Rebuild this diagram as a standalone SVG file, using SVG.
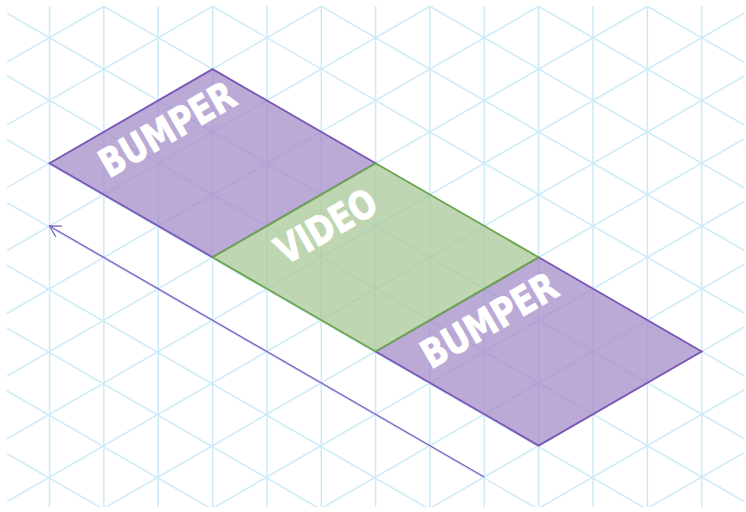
<svg xmlns="http://www.w3.org/2000/svg" xmlns:xlink="http://www.w3.org/1999/xlink" width="746" height="512" viewBox="0 0 746 512">
  <style>
    .bumper { fill: #a48cc8; fill-opacity: 0.75; stroke: #7b57b6; stroke-width: 1.8; stroke-linejoin: miter; }
    .video { fill: #aac898; fill-opacity: 0.75; stroke: #6ba64c; stroke-width: 1.8; }
    .label { font-family: "DejaVu Sans", "Liberation Sans", sans-serif; font-weight: 900; font-stretch: condensed; font-size: 39px; fill: #ffffff; stroke: #ffffff; stroke-width: 0.9; text-anchor: middle; }
    .conn { fill: none; stroke: #7d5cbf; stroke-width: 1.3; }
  </style>
  <defs>
    <clipPath id="gridClip"><rect x="7" y="6" width="737" height="501"/></clipPath>
    <g id="vlines" stroke="#cdeaf9" stroke-width="1.5">
      <line x1="-766.75" y1="-900" x2="-766.75" y2="1400"/>
      <line x1="-712.4" y1="-900" x2="-712.4" y2="1400"/>
      <line x1="-658.05" y1="-900" x2="-658.05" y2="1400"/>
      <line x1="-603.7" y1="-900" x2="-603.7" y2="1400"/>
      <line x1="-549.35" y1="-900" x2="-549.35" y2="1400"/>
      <line x1="-495" y1="-900" x2="-495" y2="1400"/>
      <line x1="-440.65" y1="-900" x2="-440.65" y2="1400"/>
      <line x1="-386.3" y1="-900" x2="-386.3" y2="1400"/>
      <line x1="-331.95" y1="-900" x2="-331.95" y2="1400"/>
      <line x1="-277.6" y1="-900" x2="-277.6" y2="1400"/>
      <line x1="-223.25" y1="-900" x2="-223.25" y2="1400"/>
      <line x1="-168.9" y1="-900" x2="-168.9" y2="1400"/>
      <line x1="-114.55" y1="-900" x2="-114.55" y2="1400"/>
      <line x1="-60.2" y1="-900" x2="-60.2" y2="1400"/>
      <line x1="-4.85" y1="-900" x2="-4.85" y2="1400"/>
      <line x1="49.5" y1="-900" x2="49.5" y2="1400"/>
      <line x1="103.85" y1="-900" x2="103.85" y2="1400"/>
      <line x1="158.2" y1="-900" x2="158.2" y2="1400"/>
      <line x1="212.55" y1="-900" x2="212.55" y2="1400"/>
      <line x1="266.9" y1="-900" x2="266.9" y2="1400"/>
      <line x1="321.25" y1="-900" x2="321.25" y2="1400"/>
      <line x1="375.6" y1="-900" x2="375.6" y2="1400"/>
      <line x1="429.95" y1="-900" x2="429.95" y2="1400"/>
      <line x1="484.3" y1="-900" x2="484.3" y2="1400"/>
      <line x1="538.65" y1="-900" x2="538.65" y2="1400"/>
      <line x1="593" y1="-900" x2="593" y2="1400"/>
      <line x1="647.35" y1="-900" x2="647.35" y2="1400"/>
      <line x1="701.7" y1="-900" x2="701.7" y2="1400"/>
      <line x1="756.05" y1="-900" x2="756.05" y2="1400"/>
      <line x1="810.4" y1="-900" x2="810.4" y2="1400"/>
      <line x1="864.75" y1="-900" x2="864.75" y2="1400"/>
      <line x1="919.1" y1="-900" x2="919.1" y2="1400"/>
      <line x1="973.45" y1="-900" x2="973.45" y2="1400"/>
      <line x1="1027.8" y1="-900" x2="1027.8" y2="1400"/>
      <line x1="1082.15" y1="-900" x2="1082.15" y2="1400"/>
      <line x1="1136.5" y1="-900" x2="1136.5" y2="1400"/>
      <line x1="1190.85" y1="-900" x2="1190.85" y2="1400"/>
      <line x1="1245.2" y1="-900" x2="1245.2" y2="1400"/>
    </g>
    <marker id="openArrow" markerUnits="userSpaceOnUse" markerWidth="20" markerHeight="20" refX="0" refY="0" viewBox="-14 -10 20 20" orient="auto" overflow="visible">
      <path d="M-10.8,-6.2 L0,0 L-10.8,6.2" fill="none" stroke="#7d5cbf" stroke-width="1.3"/>
    </marker>
  </defs>

  <rect width="746" height="512" fill="#ffffff"/>

  <g id="grid" clip-path="url(#gridClip)">
    <use xlink:href="#vlines"/>
    <use xlink:href="#vlines" transform="rotate(60 49.5 37.7)"/>
    <use xlink:href="#vlines" transform="rotate(-60 49.5 37.7)"/>
  </g>

  <g id="bumper-start">
    <polygon class="bumper" points="49.5,163.2 212.55,69.1 375.6,163.2 212.55,257.3"/>
    <text class="label" transform="translate(167 129) rotate(-30)" x="0" y="14" textLength="150" lengthAdjust="spacingAndGlyphs">BUMPER</text>
  </g>

  <g id="bumper-end">
    <polygon class="bumper" points="375.6,351.5 538.65,257.3 701.7,351.5 538.65,445.6"/>
    <text class="label" transform="translate(489 320) rotate(-30)" x="0" y="14" textLength="150" lengthAdjust="spacingAndGlyphs">BUMPER</text>
  </g>

  <g id="video">
    <polygon class="video" points="212.55,257.3 375.6,163.2 538.65,257.3 375.6,351.5"/>
    <text class="label" transform="translate(326 226) rotate(-30)" x="0" y="14" textLength="110" lengthAdjust="spacingAndGlyphs">VIDEO</text>
  </g>

  <g id="connectors">
    <path class="conn" d="M484.3,477 L49.5,226" marker-end="url(#openArrow)"/>
  </g>
</svg>
